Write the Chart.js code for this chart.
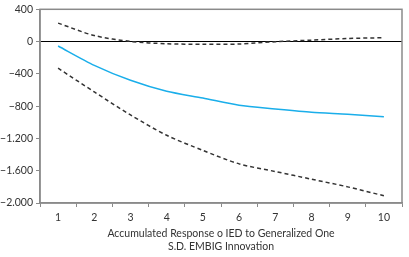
<!DOCTYPE html>
<html lang="en">
<head>
    <meta charset="UTF-8">
    <title>Accumulated Response</title>
    <style>
        body { margin: 0; background: #fff; }
        #chartContainer { width: 409px; height: 257px; }
    </style>
</head>
<body>
    <div id="chartContainer"><canvas id="chart"></canvas></div>

    <script src="https://cdn.jsdelivr.net/npm/chart.js"></script>
    <script>
        const periods = ["1", "2", "3", "4", "5", "6", "7", "8", "9", "10"]
        const response = [-55, -295, -480, -616, -700, -790, -836, -877, -900, -930]
        const upperBand = [229, 75, 2, -27, -33, -30, -2, 18, 38, 48]
        const lowerBand = [-330, -624, -909, -1161, -1348, -1515, -1610, -1705, -1800, -1910]
        const xTitle = ["Accumulated Response o IED to Generalized One", "S.D. EMBIG Innovation"]

        // 2000 -> "2.000", negatives with a real minus sign
        function fmt(v) {
            const s = String(Math.abs(v)).replace(/\B(?=(\d{3})+(?!\d))/g, '.')
            return v < 0 ? '\u2212' + s : s
        }

        const frame = {
            id: 'frame',
            afterDraw(chart) {
                const a = chart.chartArea
                const ctx = chart.ctx
                ctx.save()
                ctx.strokeStyle = '#8a8a8a'
                ctx.lineWidth = 1.5
                ctx.strokeRect(a.left, a.top, a.right - a.left, a.bottom - a.top)
                ctx.restore()
            }
        }

        const dashed = {
            fill: false,
            borderColor: '#333',
            borderWidth: 1.5,
            borderDash: [4, 3],
            pointRadius: 0,
            tension: 0.3
        }

        const font = { family: 'Lato', size: 10.5 }

        new Chart(document.getElementById("chart"), {
            type: "line",
            data: {
                labels: periods,
                datasets: [
                    { data: upperBand, ...dashed },
                    { data: response, fill: false, borderColor: '#1aaeea', borderWidth: 1.5, pointRadius: 0, tension: 0.25 },
                    { data: lowerBand, ...dashed }
                ]
            },
            options: {
                responsive: true,
                maintainAspectRatio: false,
                animation: false,
                layout: { padding: { top: 6, right: 7, left: 0, bottom: 0 } },
                plugins: { legend: { display: false }, tooltip: { enabled: false } },
                scales: {
                    x: {
                        offset: true,
                        afterFit(s) { s.height = 54 },
                        grid: { display: true, drawOnChartArea: false, offset: true, tickLength: 4, tickColor: '#8a8a8a' },
                        border: { color: '#8a8a8a', width: 1.5 },
                        ticks: { color: '#333', font: font, padding: 4 },
                        title: {
                            display: true,
                            text: xTitle,
                            color: '#333',
                            font: { ...font, lineHeight: 1.25 },
                            padding: { top: 2 }
                        }
                    },
                    y: {
                        min: -2000,
                        max: 400,
                        afterFit(s) { s.width = 40 },
                        grid: {
                            drawOnChartArea: true,
                            tickLength: 4,
                            tickColor: '#8a8a8a',
                            color: c => c.tick && c.tick.value === 0 ? '#000' : 'transparent',
                            lineWidth: 1
                        },
                        border: { color: '#8a8a8a', width: 1.5 },
                        ticks: {
                            stepSize: 400,
                            color: '#333',
                            font: font,
                            padding: 3,
                            callback: v => fmt(v)
                        }
                    }
                }
            },
            plugins: [frame]
        })
    </script>
</body>
</html>
